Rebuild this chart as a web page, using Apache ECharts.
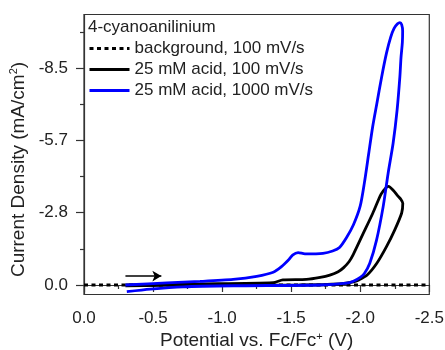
<!DOCTYPE html>
<html>
<head>
<meta charset="utf-8">
<script src="https://cdn.jsdelivr.net/npm/echarts@6/dist/echarts.min.js"></script>
<style>
  html, body { margin: 0; padding: 0; background: #fff; }
  #chart1 { width: 445px; height: 350px; }
</style>
</head>
<body>
<div id="chart1"></div>
<script>
// potential (V vs Fc/Fc+) and current density (mA/cm2)
var bgE = [0, -0.5, -1.0, -1.5, -2.0, -2.5];
var bgJ = [0, 0, 0, 0, 0, 0];

var acid100E = [-0.30, -0.84, -1.37, -1.44, -1.61, -1.71, -1.78, -1.84, -1.88, -1.92, -1.95, -2.02, -2.09, -2.15, -2.185, -2.205,
                -2.24, -2.27, -2.295, -2.308, -2.30, -2.25, -2.19, -2.12, -2.05, -1.99, -1.95, -1.85, -1.56, -0.84, -0.30];
var acid100J = [0.00, -0.04, -0.09, -0.20, -0.22, -0.30, -0.39, -0.52, -0.68, -0.92, -1.20, -2.00, -2.80, -3.55, -3.80, -3.86,
                -3.70, -3.50, -3.35, -3.20, -2.82, -2.16, -1.50, -0.85, -0.39, -0.20, -0.12, -0.04, 0.00, 0.01, 0.03];

var acid1000E = [-0.30, -0.60, -0.84, -1.08, -1.25, -1.37, -1.43, -1.48, -1.51, -1.55, -1.60, -1.73, -1.80, -1.85, -1.90,
                 -1.95, -2.00, -2.03, -2.06, -2.09, -2.12, -2.155, -2.19, -2.22, -2.245, -2.27, -2.287, -2.300, -2.307,
                 -2.305, -2.295, -2.287, -2.267, -2.238, -2.202, -2.166, -2.118, -2.069, -2.03, -2.00, -1.95, -1.90,
                 -1.71, -1.08, -0.72, -0.48, -0.31];
var acid1000J = [0.00, -0.08, -0.14, -0.22, -0.34, -0.50, -0.72, -0.98, -1.17, -1.27, -1.22, -1.24, -1.33, -1.47, -1.85,
                 -2.35, -3.10, -4.00, -5.10, -6.20, -7.10, -8.15, -9.08, -9.70, -10.05, -10.23, -10.28, -10.20, -9.95,
                 -9.50, -8.90, -8.16, -6.86, -5.55, -4.38, -3.07, -1.76, -0.85, -0.45, -0.30, -0.15, -0.07,
                 0.00, 0.03, 0.07, 0.16, 0.26];

var yTicks = [0, -2.8333, -5.6667, -8.5];
var yMinorTicks = [-1.4167, -4.25, -7.0833, -9.9167];
var arrowFrom = [-0.30, -0.35];
var arrowTo = [-0.56, -0.35];

function pairs(e, j) {
  return e.map(function (v, i) { return [v, j[i]]; });
}

var font = '"Liberation Sans", Arial, sans-serif';
var txt = '#222';
var chart = echarts.init(document.getElementById('chart1'));

chart.setOption({
  animation: false,
  title: {
    text: '4-cyanoanilinium',
    left: 88,
    top: 19,
    padding: 0,
    textStyle: { fontFamily: font, fontSize: 17, fontWeight: 'normal', color: txt }
  },
  legend: {
    orient: 'vertical',
    left: 88,
    top: 40,
    padding: 0,
    itemWidth: 40,
    itemHeight: 17,
    itemGap: 4,
    itemStyle: { opacity: 0 },
    lineStyle: { width: 3 },
    textStyle: { fontFamily: font, fontSize: 17, color: txt, lineHeight: 17 },
    data: ['background, 100 mV/s', '25 mM acid, 100 mV/s', '25 mM acid, 1000 mV/s']
  },
  grid: {
    left: 84,
    right: 15.7,
    top: 14.5,
    bottom: 55.5,
    outerBoundsMode: 'none',
    show: true,
    borderColor: '#333',
    borderWidth: 1.2
  },
  xAxis: {
    type: 'value',
    inverse: true,
    min: -2.5,
    max: 0,
    interval: 0.5,
    name: 'Potential vs. Fc/Fc{sup|+} (V)',
    nameLocation: 'middle',
    nameGap: 35,
    nameTextStyle: {
      fontFamily: font, fontSize: 19, color: txt,
      rich: { sup: { fontFamily: font, fontSize: 11, color: txt, verticalAlign: 'top' } }
    },
    axisLine: { lineStyle: { color: '#333', width: 1.2 } },
    axisTick: { length: 7, lineStyle: { color: '#333', width: 1.2 } },
    minorTick: { show: true, splitNumber: 2, length: 4, lineStyle: { color: '#333', width: 1.2 } },
    axisLabel: {
      margin: 15,
      fontFamily: font, fontSize: 17, color: txt,
      formatter: function (v) { return v.toFixed(1); }
    },
    splitLine: { show: false }
  },
  yAxis: [{
    type: 'value',
    inverse: true,
    min: -10.595,
    max: 0.372,
    name: 'Current Density (mA/cm{sup|2})',
    nameLocation: 'middle',
    nameGap: 51,
    nameTextStyle: {
      fontFamily: font, fontSize: 19, color: txt,
      padding: [0, 30, 0, 0],
      rich: { sup: { fontFamily: font, fontSize: 11, color: txt, verticalAlign: 'top' } }
    },
    axisLine: { show: true, lineStyle: { color: '#333', width: 1.2 } },
    axisTick: { show: true, length: 8, customValues: yTicks, lineStyle: { color: '#333', width: 1.2 } },
    axisLabel: {
      margin: 16,
      customValues: yTicks,
      fontFamily: font, fontSize: 17, color: txt,
      formatter: function (v) { return v.toFixed(1); }
    },
    splitLine: { show: false }
  }, {
    type: 'value',
    position: 'left',
    inverse: true,
    min: -10.595,
    max: 0.372,
    axisLine: { show: false },
    axisTick: { show: true, length: 4, customValues: yMinorTicks, lineStyle: { color: '#333', width: 1.2 } },
    axisLabel: { show: false },
    splitLine: { show: false }
  }],
  series: [{
    name: 'background, 100 mV/s',
    type: 'line',
    symbol: 'none',
    data: pairs(bgE, bgJ),
    lineStyle: { color: '#000', width: 3, type: [4, 3.5] },
    itemStyle: { color: '#000' },
    markLine: {
      silent: true,
      symbol: ['none', 'arrow'],
      symbolSize: [8, 9],
      label: { show: false },
      lineStyle: { color: '#000', width: 1.5, type: 'solid' },
      data: [[{ coord: arrowFrom }, { coord: arrowTo }]]
    }
  }, {
    name: '25 mM acid, 100 mV/s',
    type: 'line',
    symbol: 'none',
    smooth: 0.25,
    data: pairs(acid100E, acid100J),
    lineStyle: { color: '#000', width: 2.8 },
    itemStyle: { color: '#000' }
  }, {
    name: '25 mM acid, 1000 mV/s',
    type: 'line',
    symbol: 'none',
    smooth: 0.25,
    data: pairs(acid1000E, acid1000J),
    lineStyle: { color: '#0000ff', width: 2.8 },
    itemStyle: { color: '#0000ff' }
  }]
});
</script>
</body>
</html>
